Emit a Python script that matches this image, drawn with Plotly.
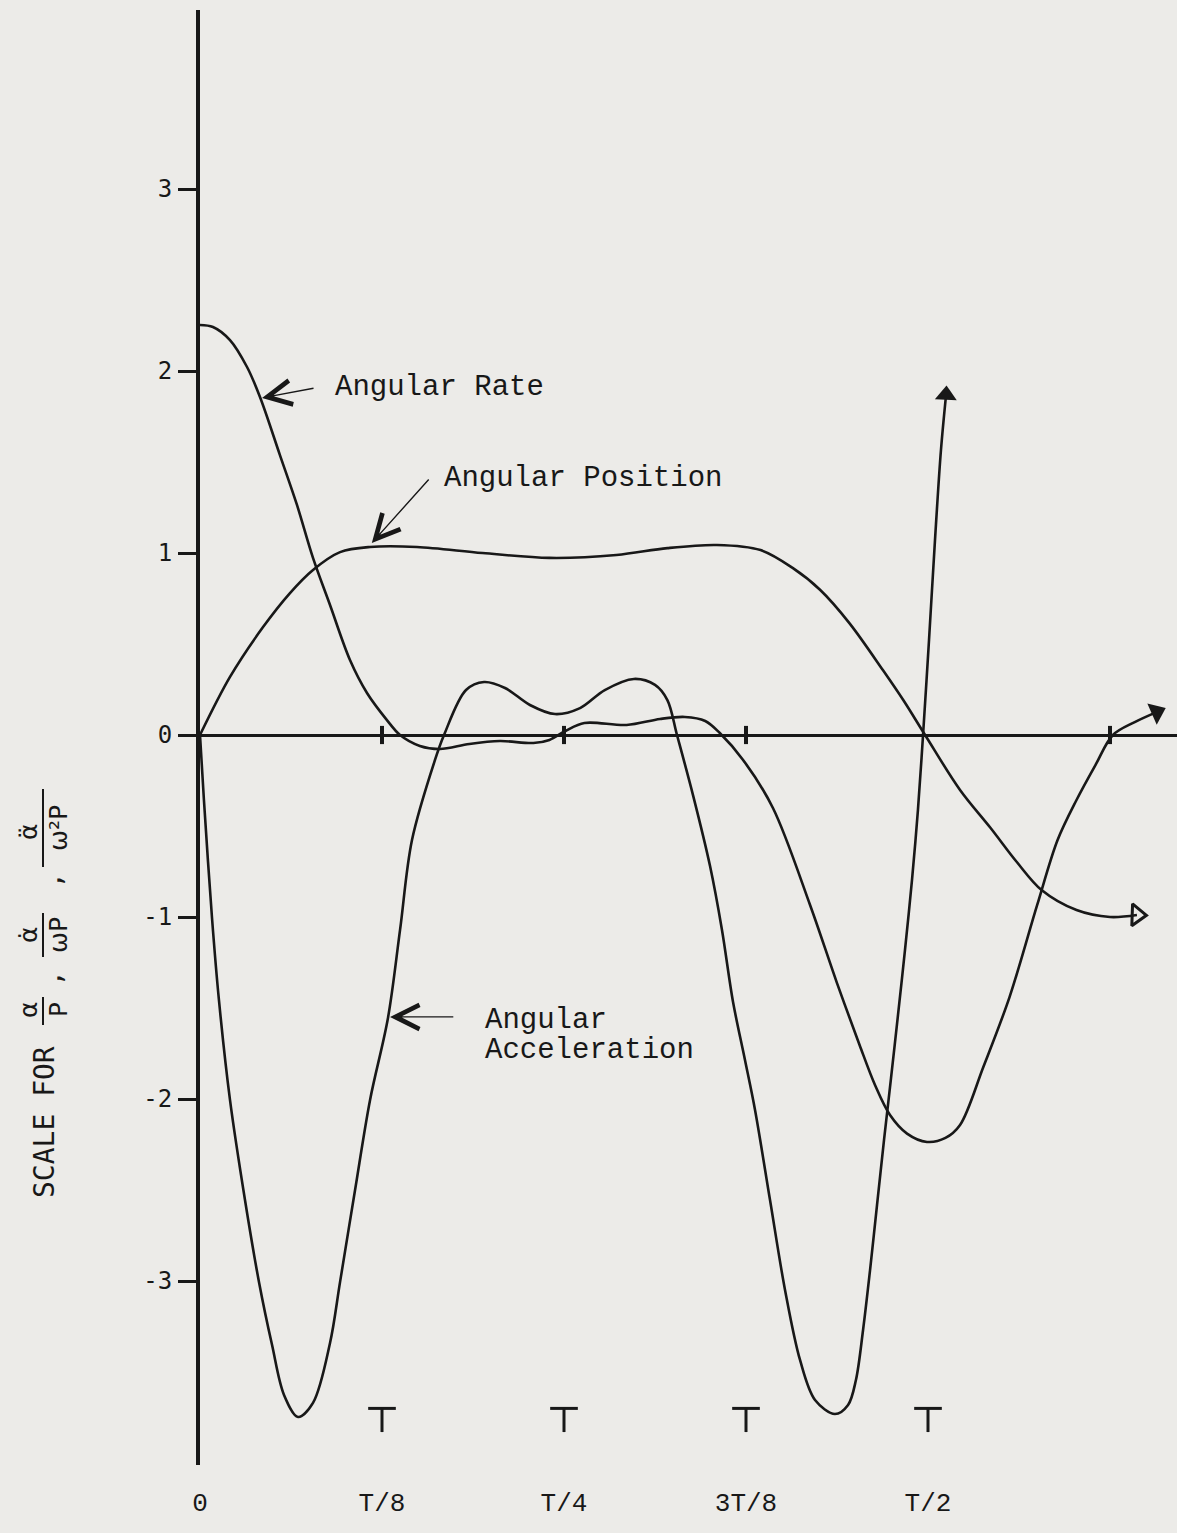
import plotly.graph_objects as go

# Time is given as a fraction of the period T; the vertical scale is shared by
# the normalised position a/P, rate a'/(wP) and acceleration a''/(w^2 P).

pos_t = [0.0, 0.0206, 0.0433, 0.0618, 0.0776, 0.0962, 0.1168, 0.149, 0.194,
         0.240, 0.286, 0.321, 0.355, 0.385, 0.407, 0.426, 0.446, 0.469, 0.483,
         0.498, 0.522, 0.543, 0.561, 0.578, 0.602, 0.625, 0.6435]
pos_y = [0.0, 0.319, 0.593, 0.780, 0.907, 1.005, 1.033, 1.033, 1.0,
         0.973, 0.989, 1.027, 1.044, 1.016, 0.918, 0.797, 0.615, 0.357, 0.192,
         0.0, -0.302, -0.511, -0.698, -0.852, -0.962, -1.0, -0.989]

rate_t = [0.0, 0.0089, 0.0206, 0.0323, 0.0412, 0.0549, 0.0666, 0.0776, 0.0893,
          0.103, 0.1147, 0.1284, 0.1374, 0.151, 0.1648, 0.185, 0.206, 0.229,
          0.240, 0.251, 0.264, 0.293, 0.316, 0.333, 0.347, 0.357, 0.373,
          0.3935, 0.419, 0.4375, 0.453, 0.4636, 0.4739, 0.4856, 0.4993, 0.512,
          0.522, 0.538, 0.556, 0.575, 0.589, 0.602, 0.615, 0.627, 0.642, 0.657]
rate_y = [2.253, 2.242, 2.170, 2.022, 1.857, 1.538, 1.264, 0.973, 0.714,
          0.412, 0.231, 0.082, 0.0, -0.060, -0.077, -0.049, -0.033, -0.044,
          -0.027, 0.022, 0.066, 0.055, 0.088, 0.099, 0.077, 0.011, -0.137,
          -0.401, -0.934, -1.363, -1.703, -1.923, -2.088, -2.190, -2.236, -2.214,
          -2.143, -1.824, -1.440, -0.934, -0.577, -0.357, -0.165, 0.0, 0.071, 0.126]

acc_t = [0.0, 0.0027, 0.0082, 0.0130, 0.0206, 0.0309, 0.0405, 0.0495, 0.0577,
         0.0673, 0.0776, 0.0893, 0.0962, 0.1065, 0.1168, 0.1291,
         0.1374, 0.1456, 0.1614, 0.1676, 0.1827, 0.1951, 0.2095, 0.2266, 0.2438,
         0.261, 0.278, 0.298, 0.3125, 0.321, 0.3276, 0.3386, 0.3503, 0.3585,
         0.3661, 0.3743, 0.3812, 0.3915, 0.4018, 0.4121, 0.4224, 0.4361, 0.4451,
         0.4505, 0.4554, 0.4602, 0.4650, 0.4698, 0.4746, 0.4794, 0.4842, 0.4890,
         0.4931, 0.4966, 0.5007, 0.5048, 0.5089, 0.5124]
acc_y = [0.0, -0.357, -1.0, -1.456, -2.005, -2.555, -3.005, -3.352, -3.626,
         -3.747, -3.670, -3.341, -3.005, -2.500, -2.005, -1.555,
         -1.071, -0.577, -0.137, 0.0, 0.247, 0.291, 0.258, 0.165, 0.115,
         0.148, 0.247, 0.308, 0.275, 0.192, 0.0, -0.330, -0.720, -1.071,
         -1.467, -1.786, -2.060, -2.555, -3.049, -3.434, -3.654, -3.731, -3.681,
         -3.544, -3.269, -2.940, -2.582, -2.225, -1.885, -1.538, -1.181, -0.797,
         -0.412, 0.0, 0.522, 1.071, 1.566, 1.868]

x_tickvals = [0, 0.125, 0.25, 0.375, 0.5]
x_ticktext = ["0", "T/8", "T/4", "3T/8", "T/2"]
y_tickvals = [3, 2, 1, 0, -1, -2, -3]
y_ticktext = ["3", "2", "1", "0", "-1", "-2", "-3"]
axis_marks = [0.125, 0.25, 0.375, 0.625]

INK = "#181818"
PAPER = "#ecebe8"
TYPE = "Liberation Mono, Courier New, monospace"
W, H = 1177, 1533
ML, MT, MB = 200, 10, 68
plot_w, plot_h = W - ML, H - MT - MB


def pg(px, py):
    """Page pixel position -> paper coordinates."""
    return (px - ML) / plot_w, (H - MB - py) / plot_h


curve_line = dict(color=INK, width=2.6, shape="spline", smoothing=0.95)

fig = go.Figure()
fig.add_trace(go.Scatter(x=pos_t, y=pos_y, mode="lines", line=curve_line,
                         name="Angular Position"))
fig.add_trace(go.Scatter(x=rate_t, y=rate_y, mode="lines", line=curve_line,
                         name="Angular Rate"))
fig.add_trace(go.Scatter(x=acc_t, y=acc_y, mode="lines", line=curve_line,
                         name="Angular Acceleration"))

# arrowheads where the curves run on past the drawn interval
fig.add_trace(go.Scatter(x=[acc_t[-1]], y=[acc_y[-1]], mode="markers",
                         marker=dict(symbol="triangle-up", size=19, color=INK,
                                     angle=3), cliponaxis=False))
fig.add_trace(go.Scatter(x=[rate_t[-1]], y=[rate_y[-1]], mode="markers",
                         marker=dict(symbol="triangle-up", size=20, color=INK,
                                     angle=66), cliponaxis=False))
fig.add_trace(go.Scatter(x=[pos_t[-1]], y=[pos_y[-1]], mode="markers",
                         marker=dict(symbol="triangle-up-open", size=19, color=INK,
                                     angle=92, line=dict(width=3, color=INK)),
                         cliponaxis=False))

# small marks on the time axis
fig.add_trace(go.Scatter(x=axis_marks, y=[0] * len(axis_marks), mode="markers",
                         marker=dict(symbol="line-ns", size=13,
                                     line=dict(width=4, color=INK))))

# "T" shaped markers above the time labels
shapes = []
for tv in x_tickvals[1:]:
    shapes.append(dict(type="line", xref="x", yref="y", x0=tv - 0.0095, x1=tv + 0.0095,
                       y0=-3.70, y1=-3.70, line=dict(color=INK, width=3)))
    shapes.append(dict(type="line", xref="x", yref="y", x0=tv, x1=tv,
                       y0=-3.70, y1=-3.83, line=dict(color=INK, width=3)))

annotations = []


def label(text, t, y):
    annotations.append(dict(x=t, y=y, xref="x", yref="y", text=text, showarrow=False,
                            xanchor="left", yanchor="middle",
                            font=dict(family=TYPE, size=29, color=INK)))


def pointer(t_head, y_head, t_tail, y_tail):
    annotations.append(dict(x=t_head, y=y_head, ax=t_tail, ay=y_tail, xref="x", yref="y",
                            axref="x", ayref="y", text="", showarrow=True,
                            arrowhead=5, arrowsize=3.4, arrowwidth=1.4,
                            arrowcolor=INK, standoff=0))


label("Angular Rate", 0.0913, 1.907)
pointer(0.0426, 1.852, 0.079, 1.907)
label("Angular Position", 0.1662, 1.412)
pointer(0.118, 1.055, 0.158, 1.412)
label("Angular", 0.1944, -1.566)
label("Acceleration", 0.1944, -1.731)
pointer(0.1305, -1.549, 0.175, -1.549)

# rotated scale caption: SCALE FOR a/P , a'/wP , a''/w^2P
CAP = "DejaVu Sans Mono, monospace"
GREEK = "DejaVu Sans, sans-serif"


def rot(text, px, py, size, family):
    x, y = pg(px, py)
    annotations.append(dict(x=x, y=y, xref="paper", yref="paper", text=text,
                            showarrow=False, textangle=-90, xanchor="center",
                            yanchor="middle", font=dict(family=family, size=size,
                                                        color=INK)))


def bar(px, py0, py1):
    x0, y0 = pg(px, py0)
    _, y1 = pg(px, py1)
    shapes.append(dict(type="line", xref="paper", yref="paper", x0=x0, x1=x0,
                       y0=y0, y1=y1, line=dict(color=INK, width=2)))


rot("SCALE FOR", 44, 1122, 28, CAP)
rot("\u03b1", 28, 1010, 25, GREEK)
bar(43, 997, 1025)
rot("P", 58, 1010, 25, CAP)
rot(",", 52, 978, 26, CAP)
rot("\u03b1\u0307", 28, 935, 25, GREEK)
bar(43, 913, 957)
rot("\u03c9P", 58, 935, 25, GREEK)
rot(",", 52, 880, 26, CAP)
rot("\u03b1\u0308", 28, 832, 25, GREEK)
bar(43, 789, 867)
rot("\u03c9\u00b2P", 58, 828, 25, GREEK)

fig.update_layout(
    width=W, height=H,
    margin=dict(l=ML, r=0, t=MT, b=MB, pad=0),
    paper_bgcolor=PAPER, plot_bgcolor=PAPER,
    showlegend=False,
    shapes=shapes,
    annotations=annotations,
    xaxis=dict(range=[0, plot_w / 1456], showgrid=False, zeroline=False,
               showline=False, ticks="", tickmode="array", tickvals=x_tickvals,
               ticktext=x_ticktext, ticklabelstandoff=19,
               tickfont=dict(family=TYPE, size=26, color=INK), fixedrange=True),
    yaxis=dict(range=[-(H - MB - 735) / 182, (735 - MT) / 182], showgrid=False,
               zeroline=True, zerolinecolor=INK, zerolinewidth=2.5,
               showline=True, linecolor=INK, linewidth=4,
               ticks="outside", ticklen=18, tickwidth=3, tickcolor=INK,
               tickmode="array", tickvals=y_tickvals, ticktext=y_ticktext,
               ticklabelstandoff=1,
               tickfont=dict(family=CAP, size=24, color=INK), fixedrange=True),
)

fig.write_html("out.html")
